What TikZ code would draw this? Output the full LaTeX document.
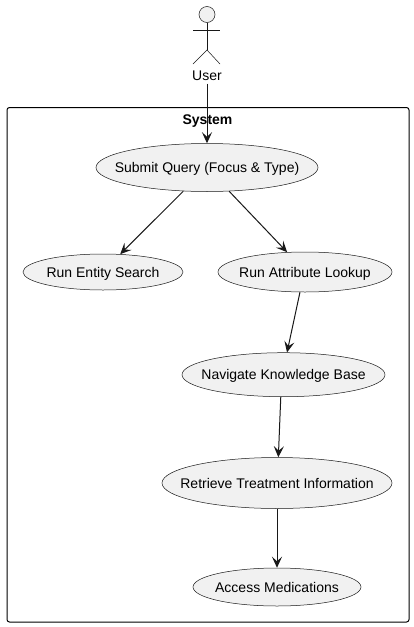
\documentclass[tikz,border=0pt]{standalone}
\usepackage{fontspec}
\setmainfont{Liberation Sans}
\usetikzlibrary{arrows.meta,shapes.geometric}
\definecolor{ufill}{HTML}{F1F1F1}
\definecolor{uline}{HTML}{181818}
\newcommand{\uctext}[1]{\makebox[0pt]{\smash{\raisebox{-5pt}{#1}}}}
\tikzset{
  uc/.style={ellipse,draw=uline,fill=ufill,line width=0.5pt,inner sep=0pt,font=\fontsize{14}{16}\selectfont,text=black},
  link/.style={draw=uline,line width=1pt,-{Stealth[length=11pt,width=10pt,inset=4.5pt]}},
  actorline/.style={draw=uline,line width=0.5pt},
  sysbox/.style={draw=black,line width=1pt,rounded corners=2.5pt}
}
\begin{document}
\begin{tikzpicture}[x=1pt,y=-1pt]
\useasboundingbox (0,0) rectangle (413,627);
\fill[white] (0,0) rectangle (413,627);
\draw[sysbox] (7,107.5) rectangle (409,622);
\node[font=\fontsize{14}{16}\selectfont\bfseries,inner sep=0pt] (systitle) at (207.5,121) {System};
% actor
\node[circle,draw=uline,fill=ufill,line width=0.5pt,minimum size=16pt,inner sep=0pt] (head) at (207,14.5) {};
\coordinate (hip) at (207,50);
\coordinate (larm) at (193,30);
\coordinate (rarm) at (220,30);
\coordinate (lfoot) at (193,64);
\coordinate (rfoot) at (220,64);
\draw[actorline] (head.south) -- (hip);
\draw[actorline] (larm) -- (rarm);
\draw[actorline] (lfoot) -- (hip) -- (rfoot);
\node[font=\fontsize{14}{16}\selectfont,inner sep=0pt,minimum height=16pt] (user) at (207,75.5) {User};
% use cases
\node[uc,minimum width=222pt,minimum height=48pt] (s) at (207,167.5) {\uctext{Submit Query (Focus \& Type)}};
\node[uc,minimum width=160pt,minimum height=36pt] (e) at (103,272) {\uctext{Run Entity Search}};
\node[uc,minimum width=174pt,minimum height=40pt] (a) at (305,272) {\uctext{Run Attribute Lookup}};
\node[uc,minimum width=203pt,minimum height=44pt] (n) at (283.5,374.7) {\uctext{Navigate Knowledge Base}};
\node[uc,minimum width=230pt,minimum height=51pt] (r) at (277,483) {\uctext{Retrieve Treatment Information}};
\node[uc,minimum width=168pt,minimum height=38pt] (m) at (277,587) {\uctext{Access Medications}};
% connectors
\draw[link] (user.south) -- (s.north);
\draw[link] (s.225.6) -- (e.46);
\draw[link] (s.313.1) -- (a.132.6);
\draw[link] (a.256) -- (n.81);
\draw[link] (n.263.5) -- (r.87.7);
\draw[link] (r.south) -- (m.north);
\end{tikzpicture}
\end{document}
